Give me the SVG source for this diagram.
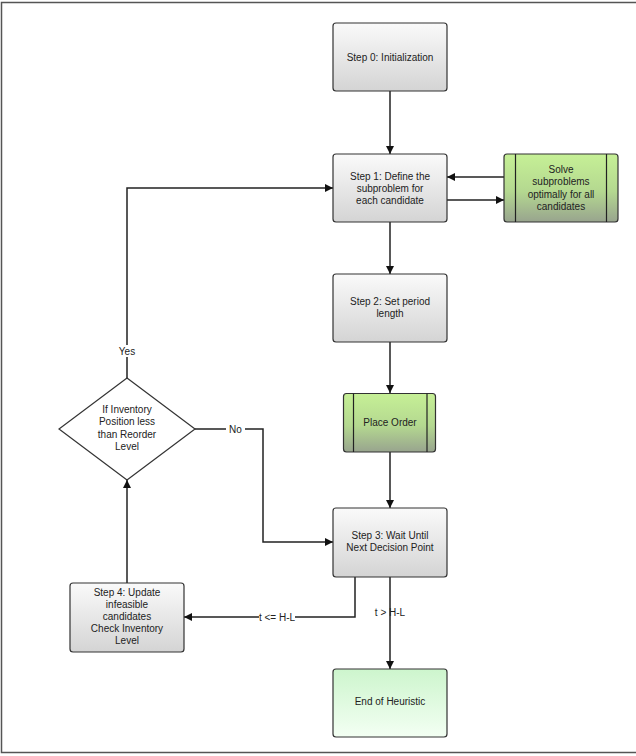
<svg xmlns="http://www.w3.org/2000/svg" width="636" height="756" viewBox="0 0 636 756">
<defs>
<linearGradient id="gGray" x1="0" y1="0" x2="0" y2="1">
<stop offset="0" stop-color="#fafafa"/><stop offset="1" stop-color="#d4d4d4"/>
</linearGradient>
<linearGradient id="gGreen" x1="0" y1="0" x2="0" y2="1">
<stop offset="0" stop-color="#c6f096"/><stop offset="0.55" stop-color="#b4d890"/><stop offset="1" stop-color="#98a48e"/>
</linearGradient>
<linearGradient id="gEnd" x1="0" y1="0" x2="0" y2="1">
<stop offset="0" stop-color="#cdf5cd"/><stop offset="1" stop-color="#f3fff3"/>
</linearGradient>
<marker id="arr" viewBox="0 0 10 10" refX="10" refY="5" markerWidth="9" markerHeight="8" markerUnits="userSpaceOnUse" orient="auto">
<path d="M0,0 L10,5 L0,10 Z" fill="#111"/>
</marker>
</defs>
<style>
.box{fill:url(#gGray);stroke:#333;stroke-width:1.2}
.grn{fill:url(#gGreen);stroke:#333;stroke-width:1.2}
.end{fill:url(#gEnd);stroke:#333;stroke-width:1.2}
.bar{stroke:#222;stroke-width:1.2}
.t{font-family:"Liberation Sans",Arial,sans-serif;font-size:10px;fill:#222;text-anchor:middle}
.c{fill:none;stroke:#222;stroke-width:1.5}
.lbl{fill:#fff}
</style>
<rect x="1.5" y="2.5" width="660" height="750" fill="#fff" stroke="#555" stroke-width="1.5"/>

<g id="connectors">
<path class="c" d="M390,91 L390,154" marker-end="url(#arr)"/>
<path class="c" d="M504,177 L447,177" marker-end="url(#arr)"/>
<path class="c" d="M447,200 L504,200" marker-end="url(#arr)"/>
<path class="c" d="M390,222 L390,274" marker-end="url(#arr)"/>
<path class="c" d="M390,342 L390,393" marker-end="url(#arr)"/>
<path class="c" d="M390,452 L390,508" marker-end="url(#arr)"/>
<path class="c" d="M127,378 L127,188 L333,188" marker-end="url(#arr)"/>
<path class="c" d="M195,429 L263,429 L263,542 L333,542" marker-end="url(#arr)"/>
<path class="c" d="M127,583 L127,480" marker-end="url(#arr)"/>
<path class="c" d="M355,577 L355,617 L184,617" marker-end="url(#arr)"/>
<path class="c" d="M390,577 L390,669" marker-end="url(#arr)"/>
<rect class="lbl" x="116" y="345" width="22" height="12"/>
<text class="t" x="127" y="355">Yes</text>
<rect class="lbl" x="226" y="423" width="19" height="12"/>
<text class="t" x="235.5" y="432.5">No</text>
<rect class="lbl" x="259" y="611" width="36" height="12"/>
<text class="t" x="277" y="620.5">t &lt;= H-L</text>
<text class="t" x="390" y="616">t &gt; H-L</text>
</g>

<g id="step0">
<rect class="box" x="333" y="23" width="114" height="68" rx="3"/>
<text class="t" x="390" y="60.5">Step 0: Initialization</text>
</g>
<g id="step1">
<rect class="box" x="333" y="154" width="114" height="68" rx="3"/>
<text class="t" x="390" y="179.5">Step 1: Define the</text>
<text class="t" x="390" y="191.5">subproblem for</text>
<text class="t" x="390" y="203.5">each candidate</text>
</g>
<g id="solve">
<rect class="grn" x="504" y="154" width="114" height="68" rx="3"/>
<line class="bar" x1="515.5" y1="154" x2="515.5" y2="222"/>
<line class="bar" x1="606.5" y1="154" x2="606.5" y2="222"/>
<text class="t" x="561" y="173">Solve</text>
<text class="t" x="561" y="185">subproblems</text>
<text class="t" x="561" y="197.5">optimally for all</text>
<text class="t" x="561" y="209.5">candidates</text>
</g>
<g id="step2">
<rect class="box" x="333" y="274" width="114" height="68" rx="3"/>
<text class="t" x="390" y="304.5">Step 2: Set period</text>
<text class="t" x="390" y="316.5">length</text>
</g>
<g id="placeOrder">
<rect class="grn" x="343.5" y="393.5" width="92" height="58.5" rx="3"/>
<line class="bar" x1="353.5" y1="393.5" x2="353.5" y2="452"/>
<line class="bar" x1="427" y1="393.5" x2="427" y2="452"/>
<text class="t" x="390" y="425.5">Place Order</text>
</g>
<g id="decision">
<path d="M127,378 L195,429 L127,480 L59,429 Z" fill="#fff" stroke="#333" stroke-width="1.2"/>
<text class="t" x="127" y="413">If Inventory</text>
<text class="t" x="127" y="425">Position less</text>
<text class="t" x="127" y="437.5">than Reorder</text>
<text class="t" x="127" y="449.5">Level</text>
</g>
<g id="step3">
<rect class="box" x="333" y="508" width="114" height="69" rx="3"/>
<text class="t" x="390" y="538.5">Step 3: Wait Until</text>
<text class="t" x="390" y="551">Next Decision Point</text>
</g>
<g id="step4">
<rect class="box" x="70" y="583" width="114" height="69" rx="3"/>
<text class="t" x="127" y="595.5">Step 4: Update</text>
<text class="t" x="127" y="607.5">infeasible</text>
<text class="t" x="127" y="619.5">candidates</text>
<text class="t" x="127" y="631.5">Check Inventory</text>
<text class="t" x="127" y="643.5">Level</text>
</g>
<g id="end">
<rect class="end" x="333" y="669" width="114" height="68" rx="3"/>
<text class="t" x="390" y="705">End of Heuristic</text>
</g>
</svg>
